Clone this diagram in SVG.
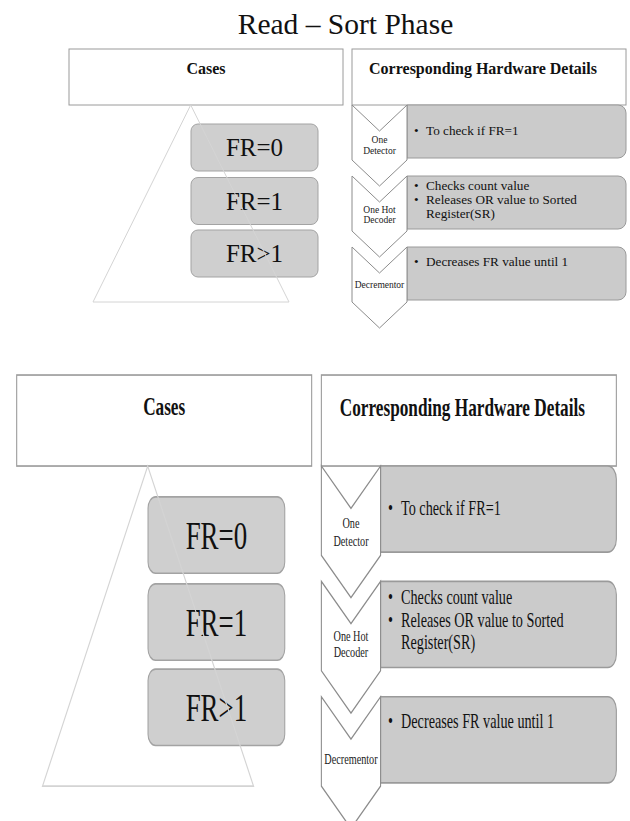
<svg xmlns="http://www.w3.org/2000/svg" width="630" height="821" viewBox="0 0 630 821">
  <style>
    .hdr { fill: #ffffff; stroke: #9a9a9a; stroke-width: 1; }
    .hdr-t { font-family: "Liberation Serif", "Times New Roman", serif; font-weight: bold; font-size: 16px; fill: #111111; text-anchor: middle; }
    .tri { fill: none; stroke: #d4d4d4; stroke-width: 1; }
    .case { fill: #cfcfcf; stroke: #a3a3a3; stroke-width: 1; }
    .case-t { font-family: "Liberation Serif", "Times New Roman", serif; font-size: 25px; fill: #111111; text-anchor: middle; }
    .chev { fill: #ffffff; stroke: #8c8c8c; stroke-width: 1; }
    .chev-t { font-family: "Liberation Serif", "Times New Roman", serif; font-size: 9.5px; fill: #222222; text-anchor: middle; }
    .det { fill: #cbcbcb; stroke: #9a9a9a; stroke-width: 1; }
    .det-t { font-family: "Liberation Serif", "Times New Roman", serif; font-size: 13.2px; fill: #111111; }
    .title { font-family: "Liberation Serif", "Times New Roman", serif; font-size: 29.5px; fill: #111111; text-anchor: middle; }
  </style>

  <rect x="0" y="0" width="630" height="821" fill="#ffffff"/>

  <text id="title" class="title" x="345.5" y="34">Read – Sort Phase</text>

  <!-- Upper copy of the phase table -->
  <g id="table-top">
    <g id="hdr-cases">
      <rect class="hdr" x="69" y="49" width="274" height="56"/>
      <text class="hdr-t" x="206" y="73.5">Cases</text>
    </g>
    <g id="hdr-hw">
      <rect class="hdr" x="352" y="49" width="274" height="56"/>
      <text class="hdr-t" x="483" y="74">Corresponding Hardware Details</text>
    </g>

    <g id="case-fr0">
      <rect class="case" x="191" y="124" width="127" height="47" rx="7"/>
      <text class="case-t" x="254.5" y="156">FR=0</text>
    </g>
    <g id="case-fr1">
      <rect class="case" x="191" y="177.5" width="127" height="47" rx="7"/>
      <text class="case-t" x="254.5" y="209.5">FR=1</text>
    </g>
    <g id="case-frgt1">
      <rect class="case" x="191" y="230" width="127" height="47" rx="7"/>
      <text class="case-t" x="254.5" y="262">FR&gt;1</text>
    </g>
    <polygon id="cases-pyramid" class="tri" points="190.7,105 289,302 93,302"/>

    <g id="hw-detector">
      <path class="det" d="M407,105 H618 A8,8 0 0 1 626,113 V150 A8,8 0 0 1 618,158 H407 Z"/>
      <path class="chev" d="M352,105 L379.5,131 L407,105 L407,160 L379.5,186 L352,160 Z"/>
      <text class="chev-t" x="379.5" y="143">One</text>
      <text class="chev-t" x="379.5" y="154">Detector</text>
      <text class="det-t" x="414" y="135">•</text>
      <text class="det-t" x="426" y="135">To check if FR=1</text>
    </g>
    <g id="hw-decoder">
      <path class="det" d="M407,176 H618 A8,8 0 0 1 626,184 V221 A8,8 0 0 1 618,229 H407 Z"/>
      <path class="chev" d="M352,176 L379.5,202 L407,176 L407,231 L379.5,257 L352,231 Z"/>
      <text class="chev-t" x="379.5" y="212.5">One Hot</text>
      <text class="chev-t" x="379.5" y="222.8">Decoder</text>
      <text class="det-t" x="414" y="190">•</text>
      <text class="det-t" x="426" y="190">Checks count value</text>
      <text class="det-t" x="414" y="204">•</text>
      <text class="det-t" x="426" y="204">Releases OR value to Sorted</text>
      <text class="det-t" x="426" y="217.5">Register(SR)</text>
    </g>
    <g id="hw-decrementor">
      <path class="det" d="M407,247 H618 A8,8 0 0 1 626,255 V292 A8,8 0 0 1 618,300 H407 Z"/>
      <path class="chev" d="M352,247 L379.5,273 L407,247 L407,302 L379.5,328 L352,302 Z"/>
      <text class="chev-t" x="379.5" y="288.3">Decrementor</text>
      <text class="det-t" x="414" y="266">•</text>
      <text class="det-t" x="426" y="266">Decreases FR value until 1</text>
    </g>
  </g>

  <!-- Lower, enlarged copy (stretched vertically) -->
  <g id="table-bottom" transform="matrix(1.0766 0 0 1.625 -57.6 295.4)">
    <g id="hdr-cases-b">
      <rect class="hdr" x="69" y="49" width="274" height="56" stroke="#6a6a6a"/>
      <text class="hdr-t" x="206" y="73.5">Cases</text>
    </g>
    <g id="hdr-hw-b">
      <rect class="hdr" x="352" y="49" width="274" height="56" stroke="#6a6a6a"/>
      <text class="hdr-t" x="483" y="74">Corresponding Hardware Details</text>
    </g>

    <g id="case-fr0-b">
      <rect class="case" x="191" y="124" width="127" height="47" rx="7"/>
      <text class="case-t" x="254.5" y="156">FR=0</text>
    </g>
    <g id="case-fr1-b">
      <rect class="case" x="191" y="177.5" width="127" height="47" rx="7"/>
      <text class="case-t" x="254.5" y="209.5">FR=1</text>
    </g>
    <g id="case-frgt1-b">
      <rect class="case" x="191" y="230" width="127" height="47" rx="7"/>
      <text class="case-t" x="254.5" y="262">FR&gt;1</text>
    </g>
    <polygon id="cases-pyramid-b" class="tri" points="190.7,105 289,302 93,302"/>

    <g id="hw-detector-b">
      <path class="det" d="M407,105 H618 A8,8 0 0 1 626,113 V150 A8,8 0 0 1 618,158 H407 Z"/>
      <path class="chev" d="M352,105 L379.5,131 L407,105 L407,160 L379.5,186 L352,160 Z"/>
      <text class="chev-t" x="379.5" y="143">One</text>
      <text class="chev-t" x="379.5" y="154">Detector</text>
      <text class="det-t" x="414" y="135">•</text>
      <text class="det-t" x="426" y="135">To check if FR=1</text>
    </g>
    <g id="hw-decoder-b">
      <path class="det" d="M407,176 H618 A8,8 0 0 1 626,184 V221 A8,8 0 0 1 618,229 H407 Z"/>
      <path class="chev" d="M352,176 L379.5,202 L407,176 L407,231 L379.5,257 L352,231 Z"/>
      <text class="chev-t" x="379.5" y="212.5">One Hot</text>
      <text class="chev-t" x="379.5" y="222.8">Decoder</text>
      <text class="det-t" x="414" y="190">•</text>
      <text class="det-t" x="426" y="190">Checks count value</text>
      <text class="det-t" x="414" y="204">•</text>
      <text class="det-t" x="426" y="204">Releases OR value to Sorted</text>
      <text class="det-t" x="426" y="217.5">Register(SR)</text>
    </g>
    <g id="hw-decrementor-b">
      <path class="det" d="M407,247 H618 A8,8 0 0 1 626,255 V292 A8,8 0 0 1 618,300 H407 Z"/>
      <path class="chev" d="M352,247 L379.5,273 L407,247 L407,302 L379.5,328 L352,302 Z"/>
      <text class="chev-t" x="379.5" y="288.3">Decrementor</text>
      <text class="det-t" x="414" y="266">•</text>
      <text class="det-t" x="426" y="266">Decreases FR value until 1</text>
    </g>
  </g>
</svg>
